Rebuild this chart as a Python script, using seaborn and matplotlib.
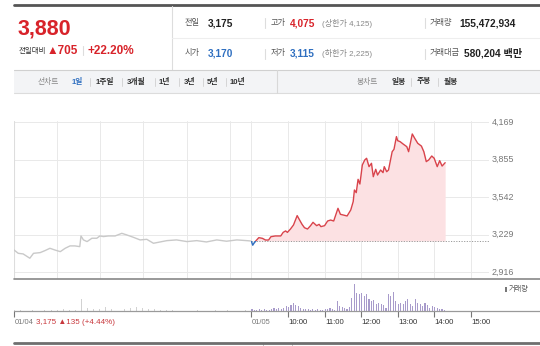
import numpy as np
import pandas as pd
import matplotlib
matplotlib.use("Agg")
import matplotlib.pyplot as plt
import seaborn as sns
from matplotlib.patches import Rectangle
from matplotlib.lines import Line2D

# ---------------- data ----------------
prev_close = 3175
cur_price = "3,880"
y_ticks = [2916, 3229, 3542, 3855, 4169]

# 01/04 session (minutes after 09:00)
day1_min = [0, 7, 15, 26, 32, 43, 51, 59, 67, 76, 84, 92, 100, 108, 110, 114, 120, 128, 136,
            141, 147, 155, 166, 177, 185, 196, 207, 218, 229, 240, 251, 267, 284, 300, 316,
            333, 349, 366, 382, 389]
day1_price = [3100, 3072, 3067, 3031, 3072, 3078, 3095, 3114, 3100, 3086, 3114, 3134, 3134,
              3128, 3217, 3184, 3170, 3198, 3198, 3217, 3212, 3217, 3217, 3239, 3226, 3206,
              3184, 3189, 3156, 3167, 3178, 3184, 3170, 3178, 3167, 3184, 3173, 3184, 3178, 3175]

# 01/05 session (minutes after 09:00)
day2_min = [0, 2, 4, 7, 12, 18, 23, 28, 32, 39, 48, 52, 56, 59, 64, 69, 75, 79, 83, 87, 92,
            97, 101, 107, 111, 114, 120, 125, 130, 135, 142, 146, 157, 163, 167, 169, 172,
            175, 178, 182, 186, 189, 193, 197, 200, 204, 207, 212, 216, 218, 222, 225, 231,
            234, 238, 240, 244, 249, 255, 258, 264, 268, 273, 279, 283, 287, 291, 296, 300,
            305, 309, 313, 318]
day2_price = [3170, 3140, 3156, 3175, 3203, 3197, 3183, 3183, 3211, 3217, 3217, 3247, 3259,
              3247, 3275, 3309, 3387, 3350, 3314, 3286, 3275, 3303, 3331, 3303, 3314, 3295,
              3303, 3342, 3350, 3342, 3448, 3398, 3384, 3434, 3504, 3601, 3579, 3690, 3651,
              3810, 3852, 3866, 3796, 3824, 3712, 3774, 3726, 3768, 3746, 3796, 3754, 3768,
              3921, 3941, 4047, 4013, 4005, 3985, 3963, 3921, 4069, 4033, 3991, 3968, 3921,
              3838, 3852, 3885, 3866, 3796, 3846, 3801, 3829]

# volume (thousand shares)
vol1_step = 10
vol1 = [100, 100, 50, 100, 50, 100, 100, 100, 200, 100, 100, 1200, 300, 200, 200, 400, 200,
        200, 200, 300, 400, 300, 200, 200, 100, 100, 100, 50, 100, 50, 100, 50, 50, 100, 50,
        100, 50, 50, 100]
vol2_step = 4
vol2 = [200, 100, 100, 200, 100, 200, 100, 100, 200, 300, 200, 300, 200, 300, 500, 400, 600,
        800, 600, 500, 300, 200, 200, 200, 100, 200, 100, 200, 100, 100, 200, 200, 300, 200,
        100, 1000, 500, 400, 300, 200, 400, 1300, 2700, 1800, 1700, 1800, 1500, 1700, 1200,
        1000, 1100, 700, 800, 700, 600, 300, 1700, 1500, 1900, 1000, 700, 800, 700, 1000,
        1200, 700, 500, 1200, 800, 700, 500, 800, 600, 300, 500, 400, 300, 200, 200, 100]

day1_grid_min = [71, 141, 212, 284, 355]
hour_labels = ["10:00", "11:00", "12:00", "13:00", "14:00", "15:00"]
SESSION = 390  # minutes per session on the axis

# ---------------- style ----------------
W, H = 540, 346
sns.set_theme(style="white")
FAM = ['Liberation Sans', 'Noto Sans CJK KR', 'DejaVu Sans']
plt.rcParams['font.family'] = FAM

RED = '#d8232a'
LINE_RED = '#d9434b'
BLUE = '#2f6fc0'
DARK = '#222222'
GRAY = '#777777'

fig = plt.figure(figsize=(W / 100, H / 100), dpi=100)
fig.patch.set_facecolor('white')

def fx(px):
    return px / W

def fy(py):
    return 1 - py / H

def hline(x0, x1, y, color, lw):
    fig.add_artist(Line2D([fx(x0), fx(x1)], [fy(y), fy(y)], color=color, lw=lw))

def vline(x, y0, y1, color, lw):
    fig.add_artist(Line2D([fx(x), fx(x)], [fy(y0), fy(y1)], color=color, lw=lw))

def txt(x, y, s, size, color, weight='normal', ha='left'):
    fig.text(fx(x), fy(y), s, fontsize=size, color=color, weight=weight, ha=ha, va='center')

# ---------------- header ----------------
hline(14, 540, 4.5, '#555555', 2.0)
vline(172, 6, 70, '#dddddd', 0.8)
hline(172, 540, 37.5, '#eeeeee', 0.8)

txt(18, 29.5, cur_price, 15.5, RED, 'bold')
txt(19, 51, "전일대비", 5.4, '#333333')
txt(47, 50.5, "▲705", 8.5, RED, 'bold')
vline(83, 46, 55, '#dddddd', 0.8)
txt(88, 50.5, "+22.20%", 8.5, RED, 'bold')

LBL = 5.9
VAL = 7.3
R1, R2 = 23, 53.5
# row 1
txt(185, R1, "전일", LBL, '#555555')
txt(208, R1, "3,175", VAL, DARK, 'bold')
vline(265, R1 - 5, R1 + 5, '#dddddd', 0.8)
txt(271, R1, "고가", LBL, '#555555')
txt(290, R1, "4,075", VAL, RED, 'bold')
txt(322, R1, "(상한가 4,125)", 5.8, '#888888')
vline(425, R1 - 5, R1 + 5, '#dddddd', 0.8)
txt(430, R1, "거래량", LBL, '#555555')
txt(459, R1, "155,472,934", VAL, DARK, 'bold')
# row 2
txt(185, R2, "시가", LBL, '#555555')
txt(208, R2, "3,170", VAL, BLUE, 'bold')
vline(265, R2 - 5, R2 + 5, '#dddddd', 0.8)
txt(271, R2, "저가", LBL, '#555555')
txt(290, R2, "3,115", VAL, BLUE, 'bold')
txt(322, R2, "(하한가 2,225)", 5.8, '#888888')
vline(425, R2 - 5, R2 + 5, '#dddddd', 0.8)
txt(430, R2, "거래대금", LBL, '#555555')
txt(464, R2, "580,204 백만", VAL, DARK, 'bold')

# tab bar
fig.add_artist(Rectangle((fx(14), fy(93)), fx(540) - fx(14), fy(70) - fy(93),
                         facecolor='#f3f4f6', edgecolor='none'))
hline(14, 540, 70, '#d0d0d0', 0.8)
hline(14, 540, 93, '#dcdcdc', 0.8)
vline(277, 70, 93, '#d8d8d8', 0.8)
TAB = 5.6
txt(38, 82, "선차트", TAB, '#888888')
tabs = [("1일", 72, BLUE), ("1주일", 96, '#333333'), ("3개월", 127, '#333333'),
        ("1년", 159, '#333333'), ("3년", 184, '#333333'), ("5년", 207, '#333333'),
        ("10년", 230, '#333333')]
for s, x, c in tabs:
    txt(x, 82, s, TAB, c, 'bold')
for sx in [90, 122, 155, 179, 203, 226]:
    vline(sx, 78, 86, '#d5d5d5', 0.7)
txt(357, 82, "봉차트", TAB, '#888888')
for s, x in [("일봉", 392), ("주봉", 417), ("월봉", 444)]:
    txt(x, 82, s, TAB, '#333333', 'bold')
vline(411, 78, 86, '#d5d5d5', 0.7)
vline(438, 78, 86, '#d5d5d5', 0.7)

# ---------------- price chart ----------------
X0, X1 = 14, 489
PY0, PY1 = 121, 279
ax = fig.add_axes([fx(X0), fy(PY1), fx(X1) - fx(X0), fy(PY0) - fy(PY1)])
ax.set_facecolor('none')
ax.set_xlim(0, 2 * SESSION)
ax.set_ylim(2857.5, 4177.4)
for s in ax.spines.values():
    s.set_visible(False)
ax.set_xticks([]); ax.set_yticks([])

grid_c = '#e9e9e9'
for yv in y_ticks:
    ax.axhline(yv, color=grid_c, lw=0.7, zorder=0)
for gx in day1_grid_min + [SESSION] + [SESSION + 60 * (i + 1) for i in range(len(hour_labels))]:
    ax.axvline(gx, color=grid_c, lw=0.7, zorder=0)
ax.axvline(0, color='#dddddd', lw=0.8, zorder=0)

d1 = pd.DataFrame({'t': day1_min, 'p': day1_price})
d2 = pd.DataFrame({'t': np.array(day2_min) + SESSION, 'p': day2_price})

p2 = np.array(day2_price, dtype=float)
t2 = d2['t'].to_numpy(dtype=float)
ax.fill_between(t2, p2, prev_close, where=p2 >= prev_close, interpolate=True,
                color='#fce1e3', lw=0, zorder=1)
ax.fill_between(t2, p2, prev_close, where=p2 <= prev_close, interpolate=True,
                color='#dde8f6', lw=0, zorder=1)
ax.hlines(prev_close, SESSION, 2 * SESSION, colors='#9a9a9a', lw=0.7,
          linestyles=(0, (1.2, 1.5)), zorder=2)

sns.lineplot(data=d1, x='t', y='p', ax=ax, color='#c9c9c9', lw=1.0, zorder=3)
sns.lineplot(data=d2, x='t', y='p', ax=ax, color=LINE_RED, lw=1.0, zorder=4)
ln_red = ax.lines[-1]
sns.lineplot(data=d2, x='t', y='p', ax=ax, color=BLUE, lw=1.0, zorder=4)
ln_blue = ax.lines[-1]
ln_red.set_clip_path(Rectangle((SESSION, prev_close), SESSION, 3000, transform=ax.transData))
ln_blue.set_clip_path(Rectangle((SESSION, prev_close - 3000), SESSION, 3000, transform=ax.transData))
ax.set_xlabel(''); ax.set_ylabel('')

# y labels on the right
for yv in y_ticks:
    ax.text(1 + 3 / (X1 - X0), yv, f"{yv:,}", transform=ax.get_yaxis_transform(),
            ha='left', va='center', fontsize=6.4, color=GRAY)

hline(14, 540, 279, '#888888', 1.2)

# ---------------- volume ----------------
VY0, VY1 = 279, 311
axv = fig.add_axes([fx(X0), fy(VY1), fx(X1) - fx(X0), fy(VY0) - fy(VY1)])
axv.set_facecolor('none')
axv.set_xlim(0, 2 * SESSION)
axv.set_ylim(0, 3200)
for s in axv.spines.values():
    s.set_visible(False)
v1x = np.arange(len(vol1)) * vol1_step
v2x = np.arange(len(vol2)) * vol2_step + SESSION
axv.bar(v1x, vol1, width=1.6, color='#d2d2d2', align='edge', lw=0)
axv.bar(v2x, vol2, width=1.8, color='#a89bcb', align='edge', lw=0)
axv.set_yticks([])
tick_pos = [0, SESSION] + [SESSION + 60 * (i + 1) for i in range(len(hour_labels))]
axv.set_xticks(tick_pos)
axv.set_xticklabels([])
axv.tick_params(axis='x', direction='out', length=4, width=0.8, color='#777777', bottom=True)

hline(14, 540, 311, '#9a9a9a', 0.9)

fig.add_artist(Rectangle((fx(505), fy(292)), 1.5 / W, 5 / H, facecolor='#777777', edgecolor='none'))
txt(509, 289.5, "거래량", 5.2, '#555555')

# time labels
def pos_px(m):
    return X0 + (X1 - X0) * m / (2 * SESSION)

txt(pos_px(0) + 0.5, 322, "01/04", 5.4, GRAY)
txt(35.5, 322, "3,175 ▲135 (+4.44%)", 5.8, '#c8383d')
txt(pos_px(SESSION) + 0.5, 322, "01/05", 5.4, GRAY)
for i, lab in enumerate(hour_labels):
    txt(pos_px(SESSION + 60 * (i + 1)) + 0.5, 322, lab, 5.6, '#333333')

# bottom bar
hline(14, 540, 342.5, '#6f6f6f', 2.0)
fig.add_artist(Rectangle((fx(263), fy(346)), 29 / W, 3.2 / H, facecolor='white',
                         edgecolor='#bbbbbb', lw=0.6))

fig.savefig("out.png", dpi=100, facecolor='white')
